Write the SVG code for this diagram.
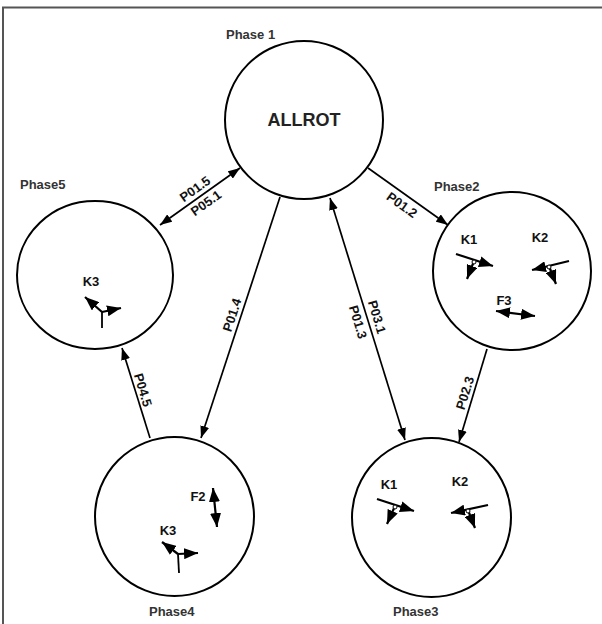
<svg xmlns="http://www.w3.org/2000/svg" width="602" height="624" viewBox="0 0 602 624">
  <style>
    .node { fill: #fff; stroke: #000; stroke-width: 2; }
    .title { font-family: "Liberation Sans", Arial, sans-serif; font-weight: bold; font-size: 13px; fill: #333; }
    .lbl { font-family: "Liberation Sans", Arial, sans-serif; font-weight: bold; font-size: 13px; fill: #111; text-anchor: middle; }
    .big { font-family: "Liberation Sans", Arial, sans-serif; font-weight: bold; font-size: 18px; fill: #222; text-anchor: middle; }
    .conn { fill: none; stroke: #000; stroke-width: 1.7; }
    .axis { fill: none; stroke: #000; stroke-width: 2.2; }
    .stem { fill: none; stroke: #000; stroke-width: 1.8; }
    .joint { fill: #fff; stroke: #000; stroke-width: 1; }
  </style>
  <defs>
    <marker id="head" markerUnits="userSpaceOnUse" markerWidth="12" markerHeight="9" refX="12" refY="4.5" orient="auto-start-reverse">
      <path d="M0,0 L12,4.5 L0,9 z" fill="#000"/>
    </marker>
    <marker id="axhead" markerUnits="userSpaceOnUse" markerWidth="14" markerHeight="11" refX="14" refY="5.5" orient="auto-start-reverse">
      <path d="M0,0 L14,5.5 L0,11 z" fill="#000"/>
    </marker>
  </defs>

  <!-- frame -->
  <path d="M3,624 V7.5 H602" fill="none" stroke="#555" stroke-width="2"/>

  <!-- transitions -->
  <g id="connectors">
    <line class="conn" x1="160" y1="225" x2="240" y2="168" marker-start="url(#head)" marker-end="url(#head)"/>
    <line class="conn" x1="368" y1="168" x2="448" y2="225" marker-end="url(#head)"/>
    <line class="conn" x1="280" y1="197" x2="201" y2="438" marker-end="url(#head)"/>
    <line class="conn" x1="330" y1="198" x2="405" y2="440" marker-start="url(#head)" marker-end="url(#head)"/>
    <line class="conn" x1="487" y1="349" x2="459" y2="442" marker-end="url(#head)"/>
    <line class="conn" x1="150" y1="438" x2="122" y2="348" marker-end="url(#head)"/>

    <text class="lbl" transform="translate(195,189) rotate(-35.5)" y="4.5">P01.5</text>
    <text class="lbl" transform="translate(206,203) rotate(-35.5)" y="4.5">P05.1</text>
    <text class="lbl" transform="translate(402,205) rotate(35.5)" y="4.5">P01.2</text>
    <text class="lbl" transform="translate(232,315) rotate(-72)" y="4.5">P01.4</text>
    <text class="lbl" transform="translate(377,317) rotate(73)" y="4.5">P03.1</text>
    <text class="lbl" transform="translate(358,322) rotate(73)" y="4.5">P01.3</text>
    <text class="lbl" transform="translate(465,393) rotate(-73)" y="4.5">P02.3</text>
    <text class="lbl" transform="translate(143,390) rotate(73)" y="4.5">P04.5</text>
  </g>

  <!-- Phase 1 -->
  <g id="phase1">
    <circle class="node" cx="304" cy="120" r="79"/>
    <text class="title" x="226" y="39">Phase 1</text>
    <text class="big" x="304" y="126">ALLROT</text>
  </g>

  <!-- Phase 2 -->
  <g id="phase2">
    <circle class="node" cx="512" cy="271" r="79"/>
    <text class="title" x="434" y="191">Phase2</text>
    <text class="lbl" x="469" y="244">K1</text>
    <line class="axis" x1="456" y1="254" x2="493" y2="266" marker-end="url(#axhead)"/>
    <line class="axis" x1="474" y1="261" x2="467" y2="279" marker-end="url(#axhead)"/>
    <circle class="joint" cx="474" cy="262" r="2"/>
    <text class="lbl" x="540" y="242">K2</text>
    <line class="axis" x1="569" y1="261" x2="532" y2="270" marker-end="url(#axhead)"/>
    <line class="axis" x1="549" y1="266" x2="556" y2="284" marker-end="url(#axhead)"/>
    <circle class="joint" cx="549" cy="267" r="2"/>
    <text class="lbl" x="504" y="305">F3</text>
    <line class="axis" x1="496" y1="311" x2="535" y2="316" marker-start="url(#axhead)" marker-end="url(#axhead)"/>
  </g>

  <!-- Phase 3 -->
  <g id="phase3">
    <circle class="node" cx="431.5" cy="517.5" r="79.5"/>
    <text class="title" x="393" y="616">Phase3</text>
    <text class="lbl" x="389" y="489">K1</text>
    <line class="axis" x1="377" y1="499" x2="414" y2="511" marker-end="url(#axhead)"/>
    <line class="axis" x1="395" y1="506" x2="387" y2="524" marker-end="url(#axhead)"/>
    <circle class="joint" cx="395" cy="507" r="2"/>
    <text class="lbl" x="460" y="486">K2</text>
    <line class="axis" x1="488" y1="505" x2="451" y2="513" marker-end="url(#axhead)"/>
    <line class="axis" x1="468" y1="510" x2="475" y2="528" marker-end="url(#axhead)"/>
    <circle class="joint" cx="468" cy="511" r="2"/>
  </g>

  <!-- Phase 4 -->
  <g id="phase4">
    <circle class="node" cx="174.5" cy="516.5" r="79.5"/>
    <text class="title" x="149" y="616">Phase4</text>
    <text class="lbl" x="198" y="501">F2</text>
    <line class="axis" x1="213" y1="488" x2="217" y2="527" marker-start="url(#axhead)" marker-end="url(#axhead)"/>
    <text class="lbl" x="168" y="535">K3</text>
    <line class="stem" x1="179" y1="573" x2="178" y2="554"/>
    <line class="axis" x1="178" y1="554" x2="162" y2="542" marker-end="url(#axhead)"/>
    <line class="axis" x1="178" y1="554" x2="198" y2="553" marker-end="url(#axhead)"/>
  </g>

  <!-- Phase 5 -->
  <g id="phase5">
    <ellipse class="node" cx="95" cy="275" rx="78" ry="74"/>
    <text class="title" x="20" y="189">Phase5</text>
    <text class="lbl" x="91" y="286">K3</text>
    <line class="stem" x1="102" y1="328" x2="102" y2="312"/>
    <line class="axis" x1="102" y1="312" x2="85" y2="297" marker-end="url(#axhead)"/>
    <line class="axis" x1="102" y1="312" x2="121" y2="308" marker-end="url(#axhead)"/>
  </g>
</svg>
